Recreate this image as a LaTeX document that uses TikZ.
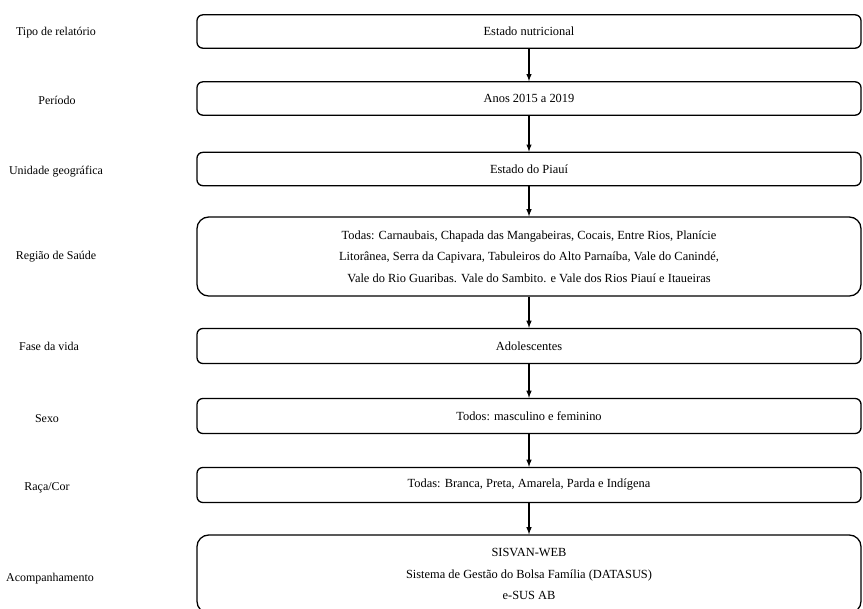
\documentclass[tikz,border=0pt]{standalone}
\usepackage{fontspec}
\setmainfont{Liberation Serif}
\tikzset{
  >=latex,
  etapa/.style={draw, line width=1.1pt, rounded corners=5pt, minimum width=19.92cm,
    minimum height=1cm, align=center, font=\fontsize{10.6}{18.5}\selectfont},
  grande/.style={rounded corners=10pt},
  rotulo/.style={font=\fontsize{10.2}{12}\selectfont},
  seta/.style={->, line width=1.1pt},
}

\begin{document}
\begin{tikzpicture}[x=0.03cm,y=-0.03cm]
    \useasboundingbox (0,0) rectangle (863,608);
    \clip (0,0) rectangle (863,608);
    % caixas
    \node[etapa] (tipo) at (529,31.5) {Estado nutricional};
    \node[etapa] (periodo) at (529,98.5) {Anos 2015 a 2019};
    \node[etapa] (unidade) at (529,169) {Estado do Piauí};
    \node[etapa,grande,minimum height=2.37cm] (regiao) at (529,256.5)
      {Todas: Carnaubais, Chapada das Mangabeiras, Cocais, Entre Rios, Planície\\
       Litorânea, Serra da Capivara, Tabuleiros do Alto Parnaíba, Vale do Canindé,\\
       Vale do Rio Guaribas. Vale do Sambito. e Vale dos Rios Piauí e Itaueiras};
    \node[etapa,minimum height=1.05cm] (fase) at (529,346) {Adolescentes};
    \node[etapa,minimum height=1.05cm] (sexo) at (529,416) {Todos: masculino e feminino};
    \node[etapa,minimum height=1.05cm] (raca) at (529,485) {Todas: Branca, Preta, Amarela, Parda e Indígena};
    \node[etapa,grande,minimum height=2.34cm] (acomp) at (529,574)
      {SISVAN-WEB\\ Sistema de Gestão do Bolsa Família (DATASUS)\\ e-SUS AB};
    % rotulos
    \node[rotulo] (rtipo) at (56,33) {Tipo de relatório};
    \node[rotulo] (rperiodo) at (57,100) {Período};
    \node[rotulo] (runidade) at (56,172) {Unidade geográfica};
    \node[rotulo] (rregiao) at (56,257) {Região de Saúde};
    \node[rotulo] (rfase) at (49,346) {Fase da vida};
    \node[rotulo] (rsexo) at (47,419) {Sexo};
    \node[rotulo] (rraca) at (47,488) {Raça/Cor};
    \node[rotulo] (racomp) at (50,579) {Acompanhamento};
    % setas
    \draw[seta] (tipo) -- (periodo);
    \draw[seta] (periodo) -- (unidade);
    \draw[seta] (unidade) -- (regiao);
    \draw[seta] (regiao) -- (fase);
    \draw[seta] (fase) -- (sexo);
    \draw[seta] (sexo) -- (raca);
    \draw[seta] (raca) -- (acomp);
\end{tikzpicture}
\end{document}
